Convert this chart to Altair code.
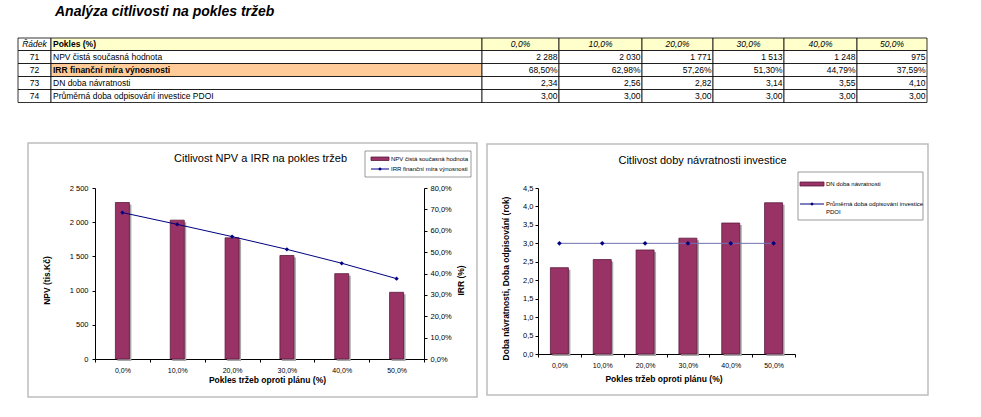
import altair as alt
import pandas as pd

FONT = "Liberation Sans"

# ---------------- data ----------------
pokles = ["0,0%", "10,0%", "20,0%", "30,0%", "40,0%", "50,0%"]
npv = [2288, 2030, 1771, 1513, 1248, 975]
irr = [0.6850, 0.6298, 0.5726, 0.5130, 0.4479, 0.3759]
dn = [2.34, 2.56, 2.82, 3.14, 3.55, 4.10]
pdoi = [3.00, 3.00, 3.00, 3.00, 3.00, 3.00]
row_ids = ["71", "72", "73", "74"]
row_names = [
    "NPV čistá současná hodnota",
    "IRR finanční míra výnosnosti",
    "DN doba návratnosti",
    "Průměrná doba odpisování investice PDOI",
]
head_id = "Řádek"
head_name = "Pokles (%)"
npv_ticks = [0, 500, 1000, 1500, 2000, 2500]
irr_ticks = [0, 0.1, 0.2, 0.3, 0.4, 0.5, 0.6, 0.7, 0.8]
dn_ticks = [0, 0.5, 1.0, 1.5, 2.0, 2.5, 3.0, 3.5, 4.0, 4.5]

# ---------------- formatting ----------------
def fmt_int(v):
    return f"{v:,}".replace(",", " ")

def fmt_pct(v):
    return f"{v * 100:.2f}%".replace(".", ",")

def fmt_dec(v):
    return f"{v:.2f}".replace(".", ",")

row_values = [
    [fmt_int(v) for v in npv],
    [fmt_pct(v) for v in irr],
    [fmt_dec(v) for v in dn],
    [fmt_dec(v) for v in pdoi],
]

# ---------------- layout constants (table grid, page px) ----------------
COL = [18, 51, 482, 559, 642, 713, 784, 857, 927]
ROW = [38, 50.5, 63.5, 76.5, 89.5, 102.5]

PLUM = "#993366"
PLUM_DARK = "#5c1a3d"
NAVY = "#000080"

one = pd.DataFrame({"k": [0]})


def deco_text(txt, x, y, size, align="left", weight="normal", style="normal",
              baseline="alphabetic"):
    return alt.Chart(one).mark_text(
        text=txt, font=FONT, fontSize=size, align=align, fontWeight=weight,
        fontStyle=style, baseline=baseline, color="black"
    ).encode(x=alt.value(x), y=alt.value(y))


def deco_rect(x, x2, y, y2, **kw):
    return alt.Chart(one).mark_rect(**kw).encode(
        x=alt.value(x), x2=alt.value(x2), y=alt.value(y), y2=alt.value(y2))


def deco_rule(x, x2, y, **kw):
    return alt.Chart(one).mark_rule(**kw).encode(
        x=alt.value(x), x2=alt.value(x2), y=alt.value(y))


def deco_diamond(x, y, size):
    return alt.Chart(one).mark_point(
        shape="diamond", filled=True, size=size, color=NAVY, opacity=1
    ).encode(x=alt.value(x), y=alt.value(y))


# ---------------- table ----------------
cells = []
texts = []
for r in range(5):
    for c in range(8):
        fill = "#ffffff"
        if r == 0 and c >= 1:
            fill = "#ffffcc"
        if r == 2 and c == 1:
            fill = "#ffcc99"
        cells.append(dict(x=COL[c], x2=COL[c + 1], y=ROW[r], y2=ROW[r + 1], fill=fill))
        yb = ROW[r + 1] - 4
        if r == 0:
            if c == 0:
                texts.append(dict(kind="ci", x=(COL[0] + COL[1]) / 2, y=yb, t=head_id))
            elif c == 1:
                texts.append(dict(kind="lb", x=COL[1] + 2, y=yb, t=head_name))
            else:
                texts.append(dict(kind="ci", x=(COL[c] + COL[c + 1]) / 2, y=yb, t=pokles[c - 2]))
        else:
            if c == 0:
                texts.append(dict(kind="c", x=(COL[0] + COL[1]) / 2, y=yb, t=row_ids[r - 1]))
            elif c == 1:
                texts.append(dict(kind="lb" if r == 2 else "l", x=COL[1] + 2, y=yb, t=row_names[r - 1]))
            else:
                texts.append(dict(kind="r", x=COL[c + 1] - 1.5, y=yb, t=row_values[r - 1][c - 2]))

cells_df = pd.DataFrame(cells)
texts_df = pd.DataFrame(texts)

xs_t = alt.Scale(domain=[95, 927], range=[0, 832], nice=False, zero=False)
ys_t = alt.Scale(domain=[38, 102], range=[0, 64], nice=False, zero=False)

cells_chart = alt.Chart(cells_df).mark_rect(stroke="black", strokeWidth=0.8).encode(
    x=alt.X("x:Q", scale=xs_t, axis=None), x2="x2:Q",
    y=alt.Y("y:Q", scale=ys_t, axis=None), y2="y2:Q",
    fill=alt.Fill("fill:N", scale=None),
)

text_styles = {
    "ci": dict(align="center", fontStyle="italic", fontWeight="normal"),
    "c": dict(align="center", fontStyle="normal", fontWeight="normal"),
    "l": dict(align="left", fontStyle="normal", fontWeight="normal"),
    "lb": dict(align="left", fontStyle="normal", fontWeight="bold"),
    "r": dict(align="right", fontStyle="normal", fontWeight="normal"),
}
text_layers = []
for k, st in text_styles.items():
    text_layers.append(
        alt.Chart(texts_df[texts_df["kind"] == k]).mark_text(
            font=FONT, fontSize=8.5, baseline="alphabetic", color="black", **st
        ).encode(
            x=alt.X("x:Q", scale=xs_t, axis=None),
            y=alt.Y("y:Q", scale=ys_t, axis=None),
            text="t:N",
        )
    )

table = alt.layer(
    deco_rect(-95, 886, -38, 379, fill="white"),
    deco_text("Analýza citlivosti na pokles tržeb", -40, -22.5, 14, weight="bold", style="italic"),
    cells_chart,
    *text_layers,
).properties(width=832, height=64)

# ---------------- left chart: NPV & IRR ----------------
df_left = pd.DataFrame({"pokles": pokles, "npv": npv, "irr": irr})
LW, LH = 329, 171

x_left = alt.X(
    "pokles:N", sort=pokles,
    scale=alt.Scale(type="band", paddingInner=0, paddingOuter=0),
    axis=alt.Axis(title="Pokles tržeb oproti plánu (%)", tickBand="extent", labelAngle=0,
                  labelPadding=4, labelFontSize=7, titleX=172, titleY=23.5, titleAlign="center",
                  titleBaseline="alphabetic"),
)
y_npv = alt.Y(
    "npv:Q", scale=alt.Scale(domain=[0, 2500], nice=False),
    axis=alt.Axis(orient="left", values=npv_ticks,
                  labelExpr="replace(format(datum.value, ',.0f'), ',', ' ')",
                  title="NPV (tis.Kč)", titleAngle=270, titleX=-49, titleY=92,
                  titleAlign="center", titleBaseline="middle", labelPadding=4),
)
y_irr = alt.Y(
    "irr:Q", scale=alt.Scale(domain=[0, 0.8], nice=False),
    axis=alt.Axis(orient="right", values=irr_ticks,
                  labelExpr="replace(format(datum.value, '.1%'), '.', ',')",
                  title="IRR (%)", titleAngle=270, titleX=36.5, titleY=92,
                  titleAlign="center", titleBaseline="middle", labelPadding=3),
)

npv_layer = alt.layer(
    alt.Chart(df_left).mark_bar(size=14, color="#a8a8a8", xOffset=2, yOffset=2).encode(x=x_left, y=y_npv),
    alt.Chart(df_left).mark_bar(size=14, fill=PLUM, stroke=PLUM_DARK, strokeWidth=0.8).encode(x=x_left, y=y_npv),
)
irr_layer = alt.layer(
    alt.Chart(df_left).mark_line(color=NAVY, strokeWidth=1).encode(x=x_left, y=y_irr),
    alt.Chart(df_left).mark_point(shape="diamond", filled=True, size=18, color=NAVY, opacity=1).encode(x=x_left, y=y_irr),
)

left = alt.layer(
    deco_rect(-67, 382, -45, 209, filled=False, stroke="#bdbdbd", strokeWidth=1.5),
    deco_text("Citlivost NPV a IRR na pokles tržeb", 165.5, -26, 11, align="center"),
    deco_rect(270, 376, -37, -11, fill="white", stroke="#808080", strokeWidth=0.8),
    deco_rect(276, 294, -31, -27.5, fill=PLUM, stroke=PLUM_DARK, strokeWidth=0.8),
    deco_text("NPV čistá současná hodnota", 296, -29.3, 6, baseline="middle"),
    deco_rule(276, 294, -19, color=NAVY, strokeWidth=1),
    deco_diamond(285, -19, 12),
    deco_text("IRR finanční míra výnosnosti", 296, -18.8, 6, baseline="middle"),
    npv_layer,
    irr_layer,
).resolve_scale(y="independent").properties(width=LW, height=LH)

# ---------------- right chart: DN & PDOI ----------------
df_right = pd.DataFrame({"pokles": pokles, "dn": dn, "pdoi": pdoi})
RW, RH = 257, 166

x_right = alt.X(
    "pokles:N", sort=pokles,
    scale=alt.Scale(type="band", paddingInner=0, paddingOuter=0),
    axis=alt.Axis(title="Pokles tržeb oproti plánu (%)", tickBand="extent", labelAngle=0,
                  labelPadding=4, labelFontSize=7, titleX=125.5, titleY=27, titleAlign="center",
                  titleBaseline="alphabetic"),
)


def y_right(field):
    return alt.Y(
        f"{field}:Q", scale=alt.Scale(domain=[0, 4.5], nice=False),
        axis=alt.Axis(orient="left", values=dn_ticks,
                      labelExpr="replace(format(datum.value, '.1f'), '.', ',')",
                      title="Doba návratnosti, Doba odpisování (rok)", titleAngle=270,
                      titleX=-32.5, titleY=90, titleAlign="center", titleBaseline="middle",
                      labelPadding=2),
    )


right = alt.layer(
    deco_rect(-51, 390, -44, 207, filled=False, stroke="#bdbdbd", strokeWidth=1.5),
    deco_text("Citlivost doby návratnosti investice", 164.5, -24, 11, align="center"),
    deco_rect(260, 385, -16, 32, fill="white", stroke="#808080", strokeWidth=0.8),
    deco_rect(262, 286, -6, -2, fill=PLUM, stroke=PLUM_DARK, strokeWidth=0.8),
    deco_text("DN doba návratnosti", 288, -3.8, 6, baseline="middle"),
    deco_rule(262, 286, 16, color=NAVY, strokeWidth=1),
    deco_diamond(274, 16, 12),
    deco_text("Průměrná doba odpisování investice", 288, 16.2, 6, baseline="middle"),
    deco_text("PDOI", 288, 24.2, 6, baseline="middle"),
    alt.Chart(df_right).mark_bar(size=18, color="#a8a8a8", xOffset=2, yOffset=2).encode(x=x_right, y=y_right("dn")),
    alt.Chart(df_right).mark_bar(size=18, fill=PLUM, stroke=PLUM_DARK, strokeWidth=0.8).encode(x=x_right, y=y_right("dn")),
    alt.Chart(df_right).mark_line(color="#7070b0", strokeWidth=1).encode(x=x_right, y=y_right("pdoi")),
    alt.Chart(df_right).mark_point(shape="diamond", filled=True, size=22, color=NAVY, opacity=1).encode(x=x_right, y=y_right("pdoi")),
).properties(width=RW, height=RH)

# ---------------- assemble ----------------
chart = alt.vconcat(
    table,
    alt.hconcat(left, right, spacing=114, bounds="flush"),
    spacing=86,
    bounds="flush",
).properties(padding=0).configure_view(stroke=None).configure_axis(
    domainColor="black", domainWidth=1, tickColor="black", tickWidth=1, tickSize=3,
    labelColor="black", labelFont=FONT, labelFontSize=7.5,
    titleColor="black", titleFont=FONT, titleFontSize=8.5, titleFontWeight="bold",
    grid=False,
)

chart.save("out.html", embed_options={"renderer": "svg", "actions": False})
